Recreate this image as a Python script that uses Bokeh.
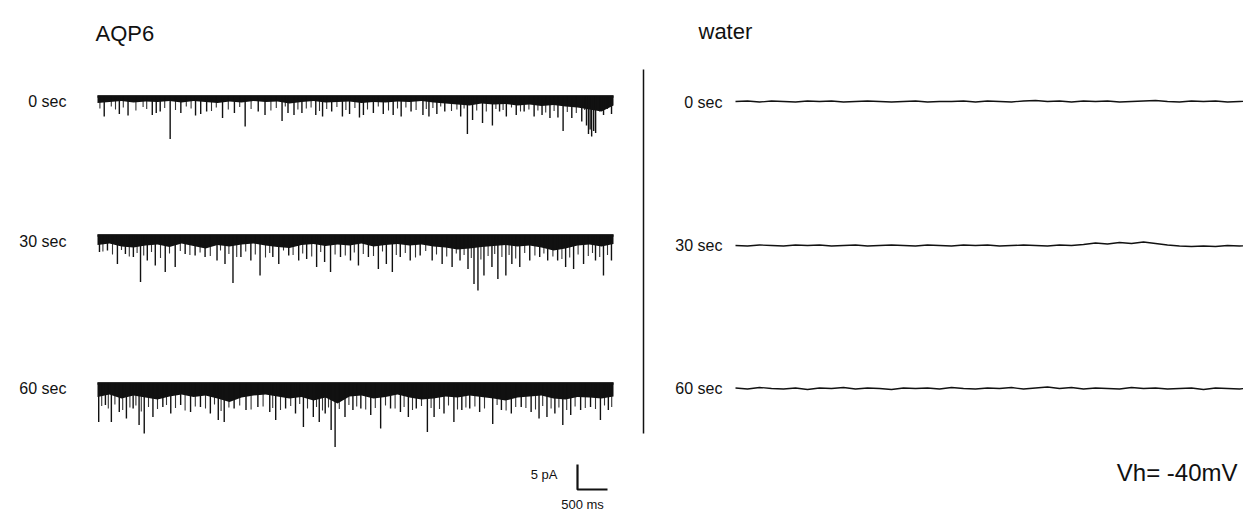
import numpy as np
from bokeh.plotting import figure
from bokeh.models import Range1d
from bokeh.embed import file_html
from bokeh.resources import INLINE
from bokeh.core.properties import value

# ---------------- data ----------------
panel_titles = ["AQP6", "water"]
trace_labels = ["0 sec", "30 sec", "60 sec"]
holding_label = "Vh= -40mV"
scale_pA = 5          # vertical scale bar
scale_ms = 500        # horizontal scale bar
trace_ms = 8600       # length of each sweep
band_step_ms = 200    # sampling of band edge / water traces

# AQP6, 0 sec: larger openings (time ms, amplitude pA, inward = down)
aqp6_0_t = [112, 364, 509, 913, 979, 1045, 1211, 1389, 1634, 1720, 1819, 2084, 2282, 2461, 2679,
            2792, 3076, 3175, 3275, 3407, 3638, 3751, 3903, 4082, 4201, 4366, 4432, 4598, 4763,
            4928, 5061, 5226, 5424, 5524, 5656, 5788, 6053, 6165, 6251, 6417, 6582, 6701, 6814,
            6979, 7111, 7277, 7409, 7541, 7674, 7760, 7905, 8071, 8150, 8183, 8210, 8236, 8270,
            8302, 8434, 8567]
aqp6_0_amp = [4.0, 3.5, 3.8, 3.7, 3.3, 3.0, 8.5, 3.3, 3.8, 3.5, 3.0, 4.3, 3.3, 6.0, 3.0,
              3.7, 4.9, 3.3, 3.7, 3.3, 3.7, 4.0, 3.0, 4.0, 3.5, 4.2, 3.7, 3.3, 3.5,
              3.7, 4.0, 3.0, 3.7, 4.0, 3.5, 3.0, 4.0, 7.5, 4.7, 5.3, 5.8, 3.0, 4.0,
              3.7, 3.0, 4.0, 3.7, 4.3, 4.2, 6.9, 4.3, 5.0, 5.8, 7.5, 6.6, 8.0, 6.9,
              7.3, 3.7, 3.5]
# AQP6, 0 sec: brief small openings
aqp6_0_small_t = [40, 230, 300, 430, 640, 760, 820, 1120, 1300, 1480, 1560, 1900, 1980, 2180,
                  2370, 2560, 2890, 2980, 3130, 3340, 3480, 3560, 3700, 3820, 3990, 4140, 4290,
                  4500, 4680, 4850, 5000, 5140, 5310, 5480, 5590, 5720, 5900, 5990, 6110, 6320,
                  6480, 6640, 6760, 6900, 7050, 7190, 7340, 7470, 7610, 7830, 7980, 8120, 8370,
                  8500]
aqp6_0_small_amp = [2.4, 2.0, 2.6, 2.2, 2.8, 2.1, 2.5, 2.3, 2.7, 2.0, 2.4, 2.9, 2.2, 2.6,
                    2.1, 2.5, 2.8, 2.3, 2.0, 2.6, 2.4, 2.2, 2.9, 2.5, 2.1, 2.7, 2.3,
                    2.6, 2.0, 2.8, 2.4, 2.2, 2.7, 2.5, 2.3, 2.0, 2.9, 2.6, 2.4, 2.8,
                    3.0, 2.5, 2.7, 2.2, 3.0, 2.6, 2.8, 3.2, 2.9, 3.1, 3.3, 2.7, 3.0, 2.5]
aqp6_0_band = [1.3, 1.1, 0.9, 1.2, 1.0, 1.1, 0.9, 1.2, 0.9, 1.1, 1.3, 1.0, 1.2, 0.9, 1.1,
               1.0, 1.4, 1.1, 0.9, 1.2, 1.1, 1.0, 1.3, 1.1, 1.2, 1.0, 1.1, 0.9, 1.2, 1.4,
               1.6, 1.8, 1.4, 1.6, 1.5, 1.8, 1.6, 1.9, 1.7, 2.0, 2.2, 2.6, 3.0, 1.8]

# AQP6, 30 sec
aqp6_30_t = [33, 166, 332, 465, 598, 717, 830, 963, 1129, 1295, 1461, 1627, 1793, 1992, 2125,
             2258, 2390, 2556, 2709, 2922, 3021, 3187, 3353, 3486, 3652, 3785, 3884, 4050,
             4216, 4349, 4515, 4681, 4814, 4914, 5046, 5212, 5378, 5578, 5744, 5910, 6042,
             6175, 6275, 6341, 6441, 6574, 6673, 6806, 6906, 7038, 7204, 7370, 7503, 7669,
             7802, 7935, 8101, 8300, 8433, 8566]
aqp6_30_amp = [3.3, 3.0, 5.7, 3.7, 4.3, 9.3, 5.0, 6.0, 7.3, 6.3, 3.7, 4.0, 4.3, 5.0, 5.7,
               9.5, 4.3, 5.0, 8.0, 4.3, 5.7, 4.0, 5.0, 4.7, 6.3, 5.3, 7.3, 4.3,
               5.0, 6.0, 4.3, 6.7, 5.7, 7.3, 4.3, 5.0, 4.0, 5.0, 5.7, 6.3, 5.0,
               6.7, 9.7, 11.0, 8.0, 6.3, 8.7, 8.0, 5.7, 6.3, 5.0, 4.3, 5.0, 5.0,
               6.3, 6.7, 5.7, 5.0, 8.0, 5.0]
aqp6_30_small_t = [90, 250, 400, 530, 660, 770, 900, 1050, 1200, 1380, 1540, 1710, 1880, 2050,
                   2190, 2320, 2470, 2630, 2800, 2870, 3100, 3260, 3420, 3570, 3720, 3960, 4130,
                   4280, 4430, 4600, 4750, 4980, 5130, 5300, 5470, 5650, 5820, 5980, 6110, 6230,
                   6390, 6510, 6620, 6740, 6860, 6970, 7120, 7290, 7440, 7590, 7740, 7870, 8010,
                   8180, 8250, 8370, 8500]
aqp6_30_small_amp = [3.2, 3.8, 2.9, 4.2, 3.5, 4.0, 3.3, 4.5, 3.6, 3.1, 3.9, 3.4, 4.1, 3.0,
                     3.7, 4.3, 3.2, 3.8, 4.4, 3.5, 3.0, 3.9, 3.6, 4.2, 3.3, 3.8, 4.0,
                     3.4, 3.7, 4.1, 3.2, 3.9, 3.5, 4.4, 3.1, 3.8, 4.2, 3.6, 3.9, 4.5,
                     4.8, 4.1, 3.7, 4.3, 3.9, 4.6, 3.5, 4.0, 3.6, 4.2, 4.7, 4.4, 3.8,
                     4.1, 3.5, 4.3, 3.9]
aqp6_30_band = [1.9, 1.6, 2.2, 2.4, 2.0, 1.8, 2.3, 1.6, 2.1, 2.6, 1.9, 2.2, 1.8, 1.6, 2.0,
                2.3, 2.5, 1.9, 1.7, 2.1, 1.8, 2.0, 1.6, 2.2, 1.9, 1.7, 2.0, 1.8, 2.2, 2.4,
                2.8, 2.6, 2.3, 2.1, 1.9, 2.2, 2.0, 2.4, 3.0, 2.6, 2.0, 1.8, 2.2, 1.7]

# AQP6, 60 sec
aqp6_60_t = [20, 132, 231, 363, 482, 594, 693, 779, 924, 1089, 1221, 1386, 1551, 1716, 1881,
             2013, 2112, 2277, 2475, 2673, 2871, 2970, 3135, 3300, 3432, 3597, 3696, 3795,
             3894, 3960, 4125, 4257, 4389, 4554, 4719, 4884, 5049, 5181, 5313, 5498, 5610,
             5775, 5940, 6072, 6204, 6369, 6587, 6732, 6897, 7062, 7227, 7359, 7491, 7623,
             7755, 7887, 8052, 8217, 8382, 8514]
aqp6_60_amp = [7.7, 4.3, 7.7, 5.7, 7.0, 5.0, 8.3, 10.0, 6.7, 4.7, 6.0, 4.3, 5.7, 4.7, 6.0,
               7.3, 7.7, 5.0, 5.3, 4.7, 5.7, 7.3, 5.0, 6.0, 8.7, 6.7, 7.7, 6.0,
               9.3, 12.7, 6.7, 5.3, 5.0, 6.3, 9.0, 5.0, 5.7, 6.7, 5.0, 9.7, 6.7,
               6.0, 7.7, 5.3, 5.0, 5.7, 8.1, 5.3, 6.0, 4.7, 5.7, 7.0, 6.7, 6.0,
               8.3, 6.3, 5.3, 4.7, 7.3, 5.3]
aqp6_60_small_t = [70, 180, 290, 420, 540, 640, 730, 850, 1000, 1150, 1300, 1460, 1630, 1800,
                   1950, 2060, 2190, 2370, 2560, 2760, 2920, 3050, 3220, 3370, 3500, 3650, 3750,
                   3850, 4030, 4190, 4320, 4470, 4630, 4800, 4960, 5110, 5250, 5400, 5560, 5700,
                   5850, 6000, 6140, 6290, 6450, 6660, 6810, 6970, 7140, 7300, 7420, 7560, 7690,
                   7820, 7960, 8130, 8300, 8450, 8570]
aqp6_60_small_amp = [4.5, 5.0, 4.2, 5.3, 4.8, 4.4, 5.6, 4.7, 5.1, 4.3, 4.9, 5.4, 4.6, 5.0,
                     4.2, 5.5, 4.8, 4.4, 5.2, 4.6, 4.9, 5.3, 4.5, 4.1, 5.0, 4.7, 5.4,
                     4.8, 5.1, 4.3, 4.6, 5.2, 4.9, 4.4, 5.0, 4.7, 5.3, 4.5, 4.9, 5.1,
                     4.4, 5.2, 4.8, 4.6, 5.0, 4.3, 5.4, 4.7, 4.9, 5.2, 4.5, 5.0, 4.8,
                     5.3, 4.6, 4.9, 5.1, 4.4, 4.7]
aqp6_60_band = [2.7, 2.2, 3.0, 2.4, 2.8, 3.2, 2.6, 2.2, 2.7, 2.4, 3.0, 3.7, 2.8, 2.4, 2.2,
                2.6, 3.0, 2.7, 3.4, 2.8, 4.0, 2.6, 2.4, 3.0, 2.7, 2.2, 2.8, 3.2, 3.0, 2.6,
                2.8, 2.4, 2.7, 3.0, 3.4, 2.8, 2.6, 2.4, 3.0, 3.2, 2.7, 2.8, 3.0, 2.6]

# water-injected oocyte: baseline current (pA relative to holding level)
water_0 = [0.0, 0.1, -0.1, 0.1, 0.0, -0.1, 0.1, 0.0, 0.1, -0.1, 0.0, 0.1, 0.0, -0.1, 0.0,
           0.1, -0.1, 0.0, 0.0, 0.1, -0.1, 0.1, 0.0, -0.1, 0.1, 0.2, 0.0, 0.1, -0.1, 0.1,
           0.0, 0.1, -0.1, 0.0, 0.1, 0.2, 0.0, -0.1, 0.1, 0.0, 0.1, -0.1, 0.0, 0.1]
water_30 = [0.0, -0.1, 0.1, 0.0, -0.1, 0.1, 0.0, 0.1, -0.1, 0.0, 0.1, -0.1, 0.0, 0.1, 0.0,
            -0.1, 0.1, 0.0, -0.1, 0.1, 0.0, 0.1, -0.1, 0.0, 0.1, 0.0, -0.1, 0.1, 0.0, 0.2,
            0.5, 0.3, 0.6, 0.4, 0.7, 0.4, 0.1, -0.1, -0.2, -0.1, -0.2, 0.0, -0.1, 0.0]
water_60 = [0.1, -0.1, 0.2, 0.0, -0.1, 0.1, -0.2, 0.1, 0.0, 0.2, -0.1, 0.1, 0.0, -0.2, 0.1,
            0.0, 0.1, -0.1, 0.2, 0.0, -0.1, 0.1, 0.0, 0.2, -0.1, 0.1, 0.3, 0.0, 0.2, -0.1,
            0.1, 0.0, -0.1, 0.2, 0.0, 0.1, -0.1, 0.0, 0.1, -0.2, 0.1, 0.0, -0.1, 0.1]

# ---------------- layout (page pixels -> data units) ----------------
W, H = 1243, 511
PX_PER_MS = 0.06      # 500 ms = 30 px
PX_PER_PA = 5.0       # 5 pA = 25 px
X0_PX = 97            # start of AQP6 sweeps


def xd(px):
    return (px - X0_PX) / PX_PER_MS


def yd(px):
    return -px / PX_PER_PA


p = figure(width=W, height=H, output_backend="svg", toolbar_location=None,
           x_range=Range1d(xd(0), xd(W)), y_range=Range1d(yd(H), yd(0)),
           x_axis_type=None, y_axis_type=None, min_border=0)
p.grid.visible = False
p.outline_line_color = None
p.background_fill_color = "white"

INK = "#111111"
FONT = value("Liberation Sans")

t_grid = np.arange(0, trace_ms + 1, band_step_ms)

aqp6_rows = [(aqp6_0_t, aqp6_0_amp, aqp6_0_small_t, aqp6_0_small_amp, aqp6_0_band, 96),
             (aqp6_30_t, aqp6_30_amp, aqp6_30_small_t, aqp6_30_small_amp, aqp6_30_band, 235),
             (aqp6_60_t, aqp6_60_amp, aqp6_60_small_t, aqp6_60_small_amp, aqp6_60_band, 383)]
for t, amp, ts, amps, band, row_px in aqp6_rows:
    level = yd(row_px)
    p.varea(x=t_grid, y1=level + 0.2, y2=level - np.array(band), color=INK)
    p.line(x=[0, trace_ms], y=[level, level], line_color=INK, line_width=2.5)
    ts = np.array(ts)
    p.segment(x0=ts, y0=np.full(len(ts), level), x1=ts, y1=level - np.array(amps),
              line_color=INK, line_width=1.1, line_alpha=0.85)
    t = np.array(t)
    p.segment(x0=t, y0=np.full(len(t), level), x1=t, y1=level - np.array(amp),
              line_color=INK, line_width=1.4)

water_offset = xd(735)
water_rows = [(water_0, 101), (water_30, 245), (water_60, 388)]
for vals, row_px in water_rows:
    p.line(x=water_offset + t_grid, y=yd(row_px) + np.array(vals),
           line_color=INK, line_width=1.3)

# divider between panels
p.line(x=[xd(643), xd(643)], y=[yd(69), yd(433)], line_color=INK, line_width=1.5)

# scale bar
cx, cy = xd(577), yd(489)
p.line(x=[cx, cx, cx + scale_ms], y=[cy + scale_pA, cy, cy], line_color=INK, line_width=2.2)
p.text(x=[cx - 20 / PX_PER_MS], y=[cy + 3], text=[f"{scale_pA} pA"], text_font=FONT,
       text_font_size="13px", text_align="right", text_baseline="middle", text_color=INK)
p.text(x=[cx + 5 / PX_PER_MS], y=[yd(504)], text=[f"{scale_ms} ms"], text_font=FONT,
       text_font_size="13px", text_align="center", text_baseline="middle", text_color=INK)

# row labels
p.text(x=[xd(66)] * 3, y=[yd(101), yd(241), yd(388)], text=trace_labels, text_font=FONT,
       text_font_size="16px", text_align="right", text_baseline="middle", text_color=INK)
p.text(x=[xd(722)] * 3, y=[yd(102), yd(245), yd(388)], text=trace_labels, text_font=FONT,
       text_font_size="16px", text_align="right", text_baseline="middle", text_color=INK)

# panel titles
p.text(x=[xd(95), xd(698)], y=[yd(33), yd(31)], text=panel_titles, text_font=FONT,
       text_font_size="22px", text_align="left", text_baseline="middle", text_color=INK)

p.text(x=[xd(1237)], y=[yd(472)], text=[holding_label], text_font=FONT,
       text_font_size="24px", text_align="right", text_baseline="middle", text_color=INK)

open("out.html", "w").write(file_html(p, INLINE))
